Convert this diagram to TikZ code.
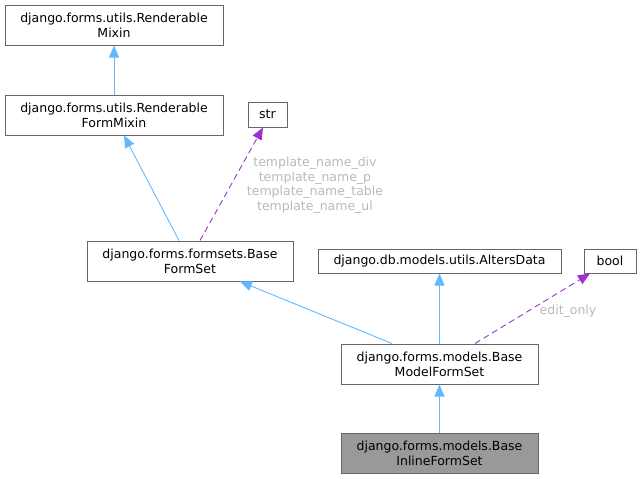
\documentclass[tikz,border=0pt]{standalone}
\usepackage{fontspec}
\setmainfont{DejaVu Sans}
\usepackage{tikz}
\usetikzlibrary{arrows.meta}
\usetikzlibrary{positioning}
\usepackage{xcolor}
\definecolor{edgeblue}{HTML}{63B8FF}
\definecolor{edgepurple}{HTML}{9A32CD}
\definecolor{boxgray}{HTML}{999999}
\definecolor{framegray}{HTML}{666666}

\begin{document}
\begin{tikzpicture}[x=1pt,y=-1pt,
  cls/.style={draw=framegray, line width=1pt, fill=white, inner sep=0pt, align=center, font=\fontsize{12.5}{15}\selectfont},
  inherit/.style={edgeblue, line width=0.9pt, -{Triangle[length=12pt,width=10pt]}},
  usage/.style={edgepurple, line width=0.9pt, dash pattern=on 6pt off 4pt, -{Triangle[length=12pt,width=10pt]}},
  lbl/.style={text=gray!55, align=center, font=\fontsize{12.5}{14.5}\selectfont}]
\useasboundingbox (0,0) rectangle (641,479);
\node[cls, minimum width=218pt, minimum height=40pt] (mixin) at (114,25) {django.forms.utils.Renderable\\Mixin};
\node[cls, minimum width=218pt, minimum height=40pt] (formmixin) at (114,115) {django.forms.utils.Renderable\\FormMixin};
\node[cls, minimum width=39pt, minimum height=25pt] (str) at (267.5,114.5) {str};
\node[cls, minimum width=206pt, minimum height=40pt] (formset) at (190,261) {django.forms.formsets.Base\\FormSet};
\node[cls, minimum width=243pt, minimum height=24pt] (alters) at (439.5,261) {django.db.models.utils.AltersData};
\node[cls, minimum width=52pt, minimum height=24pt] (bool) at (610,261) {bool};
\node[cls, minimum width=197pt, minimum height=40pt] (modelformset) at (439.5,364) {django.forms.models.Base\\ModelFormSet};
\node[cls, fill=boxgray, minimum width=197pt, minimum height=40pt] (inlineformset) at (439.5,453) {django.forms.models.Base\\InlineFormSet};
% inheritance
\draw[inherit] (formmixin.north) -- (mixin.south);
\draw[inherit] (formset.north -| 179,0) -- (formmixin.south -| 124,0);
\draw[inherit] (modelformset.north -| 392,0) -- (formset.south -| 240,0);
\draw[inherit] (modelformset.north) -- (alters.south);
\draw[inherit] (inlineformset.north) -- (modelformset.south);
% members
\draw[usage] (formset.north -| 200,0) -- (str.south -| 263,0);
\draw[usage] (modelformset.north -| 475,0) -- (bool.south -| 590,0);
\node[lbl] (strlbl) at (315,185) {template\_name\_div\\template\_name\_p\\template\_name\_table\\template\_name\_ul};
\node[lbl] (boollbl) at (568,311) {edit\_only};
\end{tikzpicture}
\end{document}
